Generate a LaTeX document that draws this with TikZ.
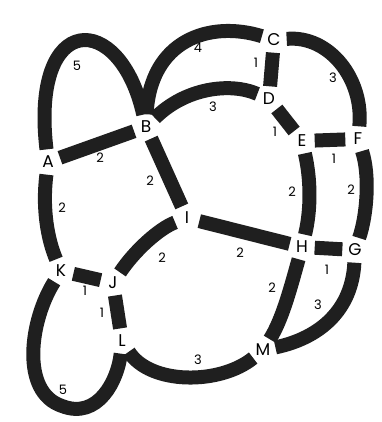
\documentclass[tikz,border=0pt]{standalone}
\usepackage{fontspec}
\setmainfont{Poppins}
\begin{document}
\begin{tikzpicture}[x=1pt,y=-1pt,
  vtx/.style={circle,minimum size=25pt,inner sep=0pt,font=\fontsize{17}{17}\selectfont},
  road/.style={line width=14pt,black!88},
  wt/.style={font=\fontsize{13}{13}\selectfont,inner sep=0pt}]
\useasboundingbox (0,0) rectangle (381,422);
\node[vtx] (A) at (48,162) {A};
\node[vtx] (B) at (146,127) {B};
\node[vtx] (C) at (274,40) {C};
\node[vtx] (D) at (269,99) {D};
\node[vtx] (E) at (302,141) {E};
\node[vtx] (F) at (358,139) {F};
\node[vtx] (G) at (355,250) {G};
\node[vtx] (H) at (302,247) {H};
\node[vtx] (I) at (187,218) {I};
\node[vtx] (J) at (113,283) {J};
\node[vtx] (K) at (61,271) {K};
\node[vtx] (L) at (122,341) {L};
\node[vtx] (M) at (263,350) {M};
\coordinate (KLb) at (62,406);
% roads
\draw[road] (A) .. controls (30,10) and (120,10) .. (B);
\draw[road] (A) -- (B);
\draw[road] (B) .. controls (150,40) and (210,20) .. (C);
\draw[road] (B) .. controls (185,88) and (230,82) .. (D);
\draw[road] (C) .. controls (330,35) and (364,80) .. (F);
\draw[road] (C) -- (D);
\draw[road] (D) -- (E);
\draw[road] (E) -- (F);
\draw[road] (E) .. controls (311,180) and (311,210) .. (H);
\draw[road] (F) .. controls (370,175) and (367,215) .. (G);
\draw[road] (B) -- (I);
\draw[road] (A) .. controls (42,210) and (48,240) .. (K);
\draw[road] (I) -- (H);
\draw[road] (H) -- (G);
\draw[road] (H) .. controls (290,290) and (282,320) .. (M);
\draw[road] (G) .. controls (352,310) and (320,338) .. (M);
\draw[road] (I) .. controls (160,228) and (135,250) .. (J);
\draw[road] (K) -- (J);
\draw[road] (J) -- (L);
\draw[road] (K) .. controls (30,320) and (20,392) .. (KLb) .. controls (98,420) and (118,380) .. (L);
\draw[road] (L) .. controls (150,385) and (220,385) .. (M);
% weights
\node[wt] (w1) at (77,66) {5};
\node[wt] (w2) at (100,158) {2};
\node[wt] (w3) at (150,181) {2};
\node[wt] (w4) at (62,208) {2};
\node[wt] (w5) at (198,48) {4};
\node[wt] (w6) at (256,63) {1};
\node[wt] (w7) at (213,107) {3};
\node[wt] (w8) at (333,78) {3};
\node[wt] (w9) at (275,132) {1};
\node[wt] (w10) at (334,159) {1};
\node[wt] (w11) at (292,192) {2};
\node[wt] (w12) at (351,190) {2};
\node[wt] (w13) at (240,253) {2};
\node[wt] (w14) at (327,270) {1};
\node[wt] (w15) at (272,288) {2};
\node[wt] (w16) at (318,305) {3};
\node[wt] (w17) at (198,360) {3};
\node[wt] (w18) at (162,258) {2};
\node[wt] (w19) at (85,291) {1};
\node[wt] (w20) at (102,313) {1};
\node[wt] (w21) at (63,390) {5};
\end{tikzpicture}
\end{document}
